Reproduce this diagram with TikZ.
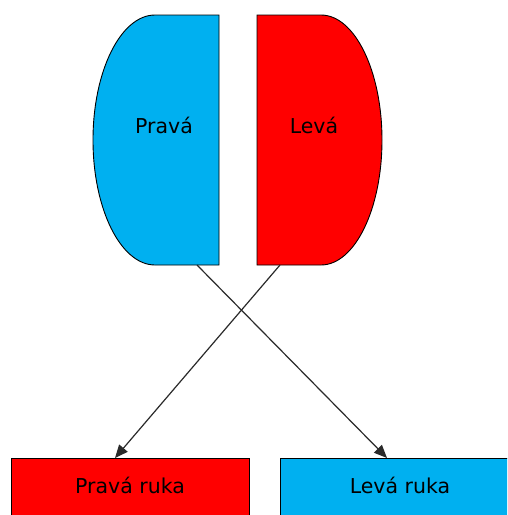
\documentclass[tikz,border=0pt]{standalone}
\usepackage{fontspec}
\setmainfont{DejaVu Sans}
\usetikzlibrary{arrows.meta}
\definecolor{cblue}{HTML}{00B0F0}
\definecolor{cred}{HTML}{FF0000}
\definecolor{cline}{HTML}{2A2A2A}
\begin{document}
\begin{tikzpicture}[x=1pt,y=-1pt,
  outline/.style={draw=black, line width=0.9pt},
  lbl/.style={inner sep=0pt, font=\fontsize{20.5}{24}\selectfont, text=black},
  conn/.style={draw=cline, line width=1.2pt, -{Triangle[length=13pt,width=11pt]}}]
\useasboundingbox (0,0) rectangle (507,515);
\clip (0,0) rectangle (507,515);
\fill[white] (0,0) rectangle (507,515);
% blue half
\draw[outline, fill=cblue] (219,15) -- (155,15)
  .. controls (120.8,15) and (93,71) .. (93,140)
  .. controls (93,209) and (120.8,265) .. (155,265) -- (219,265) -- cycle;
% red half
\draw[outline, fill=cred] (257,15) -- (321,15)
  .. controls (354.7,15) and (382,71) .. (382,140)
  .. controls (382,209) and (354.7,265) .. (321,265) -- (257,265) -- cycle;
\node[lbl] (prava) at (164,125) {Pravá};
\node[lbl] (leva) at (314,125) {Levá};
% bottom boxes
\node[outline, fill=cred, rectangle, minimum width=238pt, minimum height=80pt, anchor=north, inner sep=0pt] (prbox) at (130,458) {};
\node[outline, fill=cblue, rectangle, minimum width=260pt, minimum height=80pt, anchor=north, inner sep=0pt] (lrbox) at (410,458) {};
\node[lbl] (prtext) at (130,485) {Pravá ruka};
\node[lbl] (lrtext) at (400,485) {Levá ruka};
% connector endpoints
\coordinate (pstart) at (197,265);
\coordinate (lstart) at (280,265);
\coordinate (pend) at (387,458);
\coordinate (lend) at (115,458);
\draw[conn] (pstart) -- (pend);
\draw[conn] (lstart) -- (lend);
\end{tikzpicture}
\end{document}
